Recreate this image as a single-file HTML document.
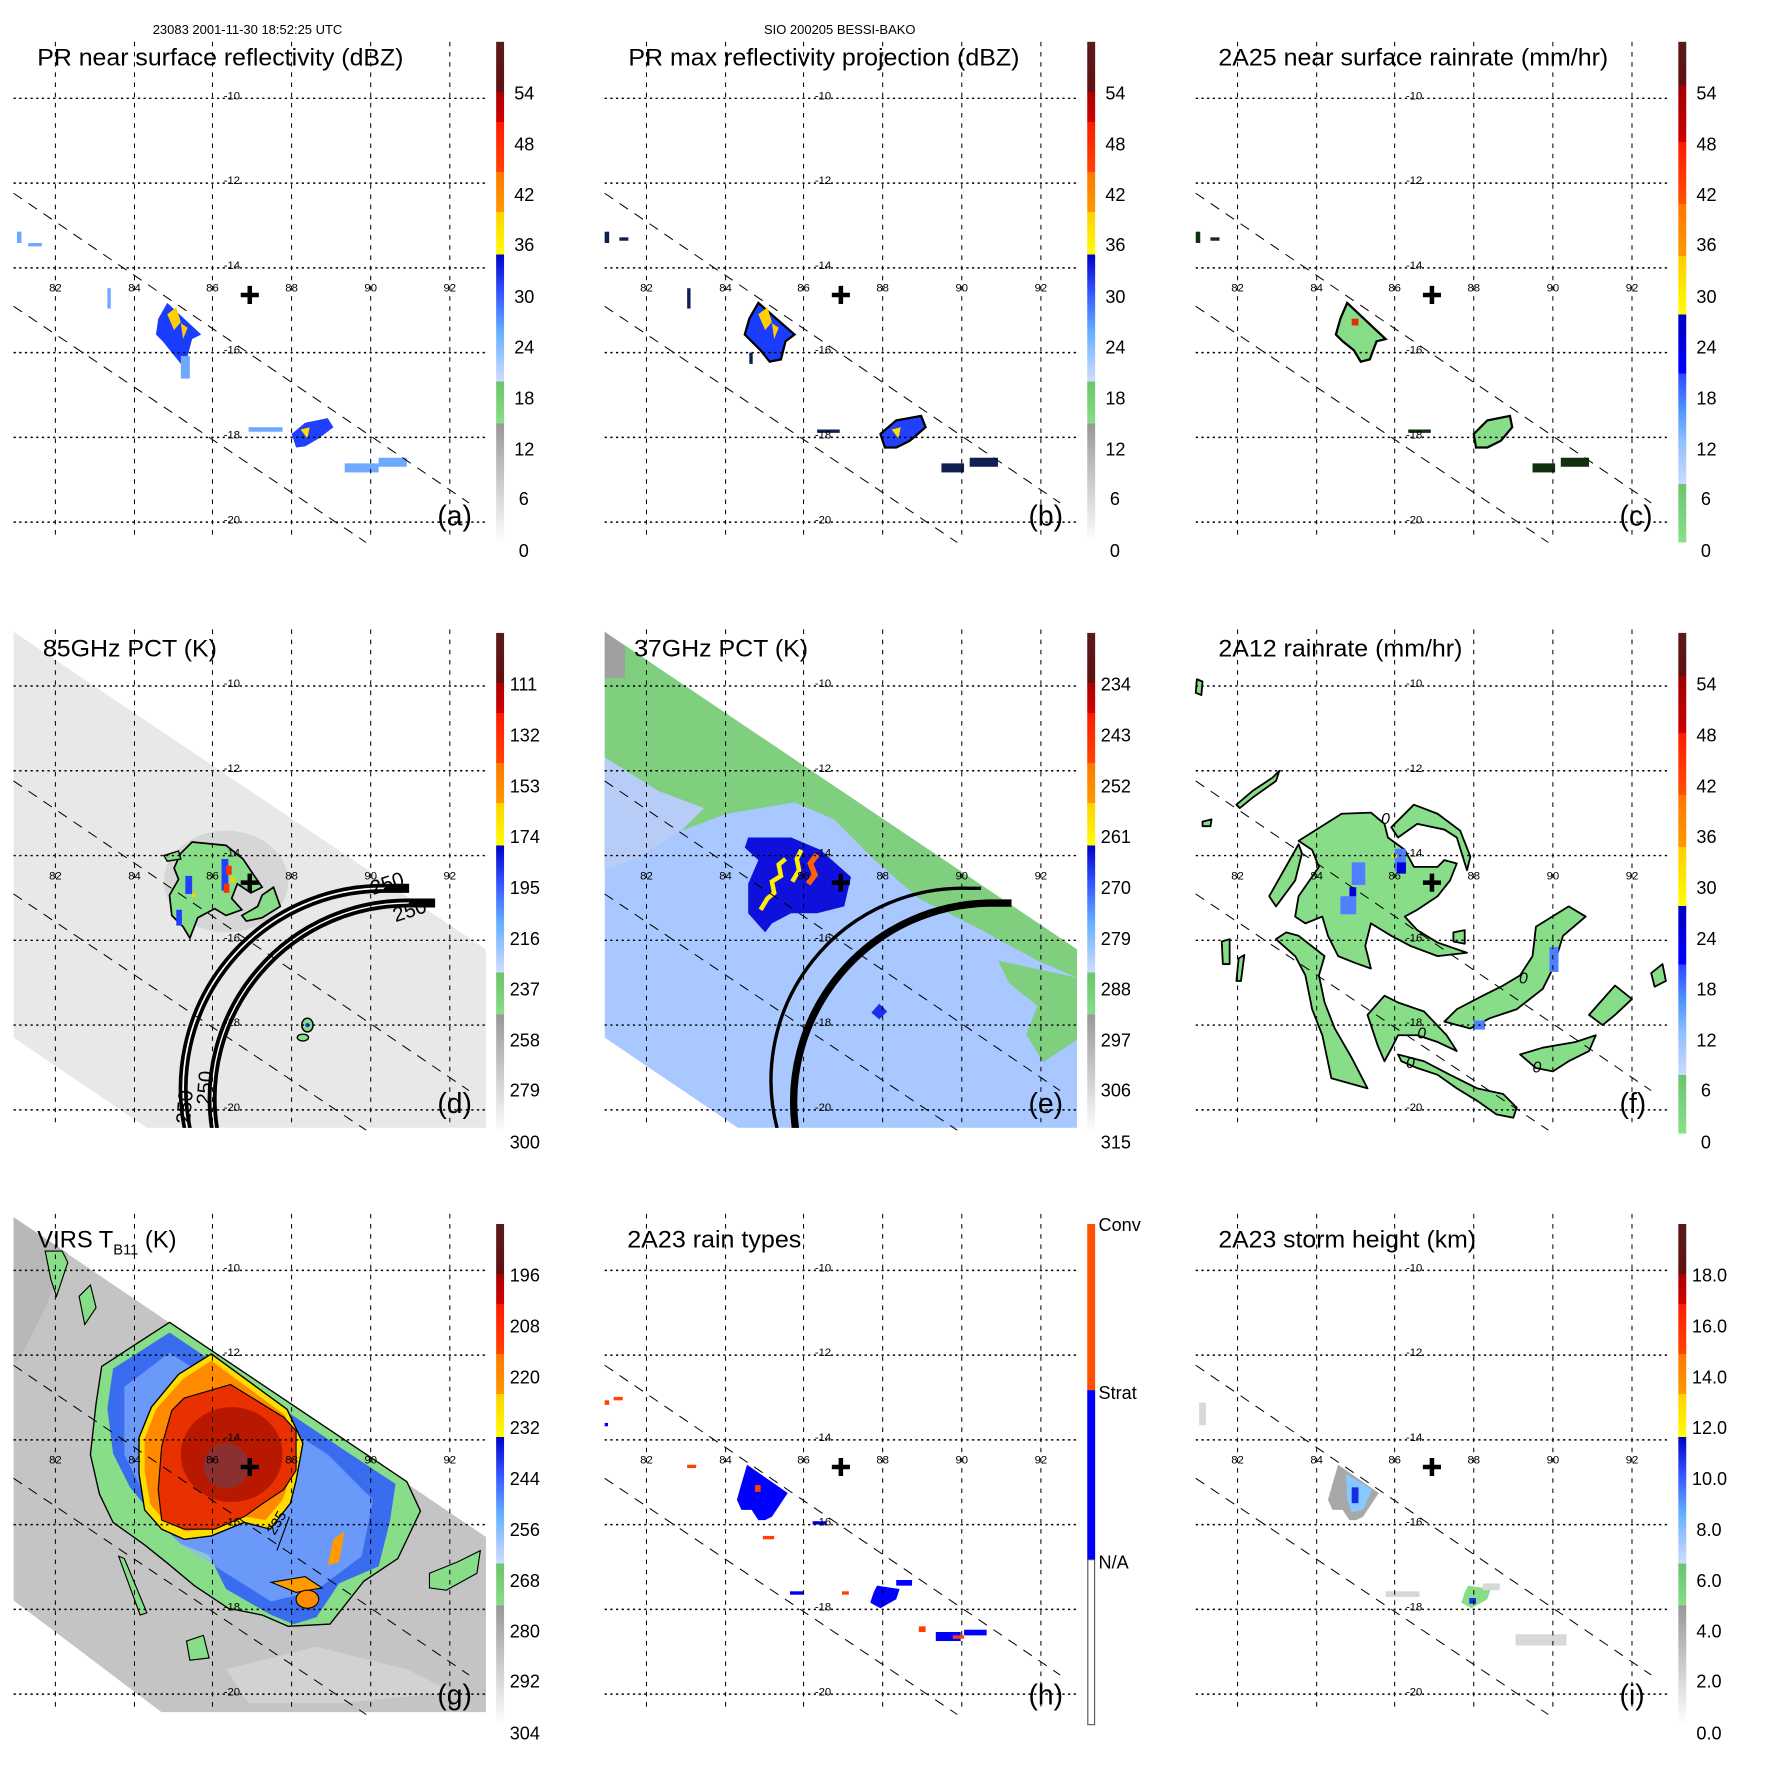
<!DOCTYPE html>
<html><head><meta charset="utf-8"><style>
html,body{margin:0;padding:0;background:#fff}
svg{display:block}
text{font-family:"Liberation Sans",sans-serif}
</style></head><body>
<svg width="1771" height="1771" viewBox="0 0 1567 1567" xmlns="http://www.w3.org/2000/svg">
<defs>
<linearGradient id="gA" x1="0" y1="1" x2="0" y2="0">
<stop offset="0" stop-color="#ffffff"/><stop offset="0.238" stop-color="#989898"/>
<stop offset="0.238" stop-color="#88dd88"/><stop offset="0.322" stop-color="#6cc46c"/>
<stop offset="0.322" stop-color="#cfdcff"/><stop offset="0.42" stop-color="#66b0ff"/>
<stop offset="0.5" stop-color="#3355ff"/><stop offset="0.575" stop-color="#0000c8"/>
<stop offset="0.575" stop-color="#ffff00"/><stop offset="0.66" stop-color="#ffd000"/>
<stop offset="0.66" stop-color="#ff9900"/><stop offset="0.74" stop-color="#ff7700"/>
<stop offset="0.74" stop-color="#ff4400"/><stop offset="0.84" stop-color="#ff1a00"/>
<stop offset="0.84" stop-color="#d00000"/><stop offset="0.9" stop-color="#aa0000"/>
<stop offset="0.9" stop-color="#601010"/><stop offset="1" stop-color="#5a1a1a"/>
</linearGradient>
<linearGradient id="gC" x1="0" y1="1" x2="0" y2="0">
<stop offset="0" stop-color="#88e088"/><stop offset="0.117" stop-color="#6cc46c"/>
<stop offset="0.117" stop-color="#cfd8ff"/><stop offset="0.2" stop-color="#8fc0ff"/>
<stop offset="0.27" stop-color="#4a90ff"/><stop offset="0.338" stop-color="#3344ff"/>
<stop offset="0.338" stop-color="#0000ff"/><stop offset="0.455" stop-color="#0000c0"/>
<stop offset="0.455" stop-color="#ffff00"/><stop offset="0.572" stop-color="#ffcc00"/>
<stop offset="0.572" stop-color="#ff9900"/><stop offset="0.676" stop-color="#ff7700"/>
<stop offset="0.676" stop-color="#ff5000"/><stop offset="0.8" stop-color="#ff1a00"/>
<stop offset="0.8" stop-color="#cc0000"/><stop offset="0.914" stop-color="#a00000"/>
<stop offset="0.914" stop-color="#601010"/><stop offset="1" stop-color="#5a1a1a"/>
</linearGradient>
<g id="grid">
<g stroke="#000" stroke-width="1.3" stroke-dasharray="2,3" fill="none">
<path d="M12 87H430M12 162H430M12 237H430M12 312H430M12 387H430M12 462H430"/>
</g>
<g stroke="#000" stroke-width="0.9" stroke-dasharray="4,5" fill="none">
<path d="M49 37V478M119 37V478M188 37V478M258 37V478M328 37V478M398 37V478"/>
</g>
<g stroke="#000" stroke-width="0.9" stroke-dasharray="9,7" fill="none">
<path d="M12 171L415 445M12 271L324 480"/>
</g>
<path d="M221 253V269M213 261H229" stroke="#000" stroke-width="4"/>
</g>
<clipPath id="pc"><rect x="12" y="37" width="418" height="441"/></clipPath>
</defs>

<text x="219" y="30" font-size="11.5" text-anchor="middle">23083 2001-11-30 18:52:25 UTC</text>
<text x="743" y="30" font-size="11.5" text-anchor="middle">SIO 200205 BESSI-BAKO</text>

<!-- ============ PANEL A ============ -->
<g transform="translate(0,0)">
<g>
<polygon points="140,282 148,268 178,296 170,300 166,315 160,322 152,312 144,302 138,296" fill="#1a3cff"/>
<polygon points="148,278 156,272 160,285 154,292" fill="#ffd000"/>
<polygon points="160,286 166,290 162,300" fill="#ffcc00"/>
<polygon points="258,384 270,374 290,370 295,378 282,388 270,395 262,396" fill="#2040ff"/>
<polygon points="266,380 274,378 272,388" fill="#ffdd00"/>
<g fill="#6fa8ff"><rect x="305" y="410" width="30" height="8"/><rect x="335" y="405" width="25" height="8"/><rect x="220" y="378" width="30" height="4"/><rect x="15" y="205" width="4" height="10"/><rect x="25" y="215" width="12" height="3"/><rect x="160" y="315" width="8" height="20"/><rect x="95" y="255" width="3" height="18"/></g>
</g>
<use href="#grid"/>
</g>
<!-- ============ PANEL B ============ -->
<g transform="translate(523,0)">
<polygon points="140,282 148,268 180,296 172,302 168,318 158,320 150,310 142,302 136,296" fill="#1a3cff" stroke="#000" stroke-width="2"/>
<polygon points="148,278 156,272 160,285 154,292" fill="#ffd000"/>
<polygon points="160,286 166,290 162,300" fill="#ffcc00"/>
<polygon points="256,384 270,372 292,368 296,378 282,390 270,396 260,396" fill="#2040ff" stroke="#000" stroke-width="2"/>
<polygon points="266,380 274,378 272,388" fill="#ffdd00"/>
<g fill="#102050"><rect x="310" y="410" width="20" height="8"/><rect x="335" y="405" width="25" height="8"/><rect x="200" y="380" width="20" height="3"/><rect x="12" y="205" width="4" height="10"/><rect x="25" y="210" width="8" height="3"/><rect x="85" y="255" width="3" height="18"/><rect x="140" y="312" width="3" height="10"/></g>
<use href="#grid"/>
</g>
<!-- ============ PANEL C ============ -->
<g transform="translate(1046,0)">
<polygon points="140,282 146,268 180,300 172,302 166,318 158,320 152,310 142,302 136,296" fill="#88dd88" stroke="#000" stroke-width="2"/>
<rect x="150" y="282" width="6" height="6" fill="#e03000"/>
<polygon points="258,384 270,372 290,368 292,378 282,390 270,396 260,396" fill="#88dd88" stroke="#000" stroke-width="2"/>
<g fill="#103010"><rect x="310" y="410" width="20" height="8"/><rect x="335" y="405" width="25" height="8"/><rect x="200" y="380" width="20" height="3"/><rect x="12" y="205" width="4" height="10"/><rect x="25" y="210" width="8" height="3"/></g>
<use href="#grid"/>
</g>

<!-- ============ PANEL D ============ -->
<g transform="translate(0,520)">
<g clip-path="url(#pc)">
<polygon points="12,39 430,320 430,478 130,478 12,398" fill="#e8e8e8"/>
<ellipse cx="200" cy="260" rx="55" ry="45" fill="#c4c4c4" opacity="0.5"/>
<polygon points="160,235 170,225 200,228 215,240 225,255 232,265 222,270 210,262 205,275 214,285 200,290 190,284 175,292 168,310 162,300 152,290 150,272 158,258 154,248" fill="#88dd88" stroke="#000" stroke-width="1.5"/>
<polygon points="232,272 242,265 248,282 232,292 218,295 214,290 228,282" fill="#88dd88" stroke="#000" stroke-width="1.5"/>
<polygon points="145,237 158,233 160,240 148,242" fill="#88dd88" stroke="#000" stroke-width="1.2"/>
<g fill="#2040ff"><rect x="196" y="240" width="6" height="28"/><rect x="164" y="255" width="6" height="16"/><rect x="156" y="285" width="5" height="14"/></g>
<g fill="#ff3000"><rect x="200" y="246" width="5" height="8"/><rect x="198" y="262" width="5" height="8"/></g>
<g fill="#ffcc00"><rect x="204" y="256" width="4" height="5"/><rect x="170" y="270" width="3" height="4"/></g>
<ellipse cx="272" cy="387" rx="5" ry="6" fill="#88dd88" stroke="#000" stroke-width="1.3"/>
<circle cx="272" cy="387" r="2" fill="#2040ff"/>
<ellipse cx="268" cy="398" rx="5" ry="3" fill="#88dd88" stroke="#000" stroke-width="1.2"/>
<g fill="none">
<path d="M166 480 A177 177 0 0 1 341 266 L362 266" stroke="#000" stroke-width="8"/>
<path d="M166 480 A177 177 0 0 1 341 266" stroke="#fff" stroke-width="1.5"/>
<path d="M190 480 A173 173 0 0 1 362 279 L385 279" stroke="#000" stroke-width="8"/>
<path d="M190 480 A173 173 0 0 1 362 279" stroke="#fff" stroke-width="1.2"/>
</g>
<text x="330" y="272" font-size="18" transform="rotate(-18 330 272)">250</text>
<text x="350" y="296" font-size="18" transform="rotate(-18 350 296)">250</text>
<text x="168" y="475" font-size="18" transform="rotate(-85 168 475)">250</text>
<text x="186" y="458" font-size="18" transform="rotate(-85 186 458)">250</text>
</g>
<use href="#grid"/>
</g>
<!-- ============ PANEL E ============ -->
<g transform="translate(523,520)">
<g clip-path="url(#pc)">
<polygon points="12,39 430,320 430,478 130,478 12,398" fill="#a8c8ff"/>
<polygon points="12,39 430,320 430,345 395,330 340,300 290,275 250,240 215,205 180,190 150,195 120,200 80,215 40,240 12,250" fill="#7fcf7f"/>
<polygon points="12,150 60,180 100,195 80,215 40,240 12,250" fill="#b8ccf8"/>
<polygon points="12,39 30,52 30,80 12,80" fill="#a0a0a0"/>
<polygon points="360,330 430,345 430,400 400,420 385,395 395,370 370,350" fill="#7fcf7f"/>
<polygon points="139,221 177,221 203,232 230,256 224,282 200,288 177,288 160,297 154,305 139,288 139,262 148,241 136,230" fill="#1010dd"/>
<polyline points="150,285 156,275 162,270 160,260 168,255 166,245 172,240" fill="none" stroke="#ffee00" stroke-width="4"/>
<polyline points="178,260 184,250 182,240 186,232" fill="none" stroke="#ffee00" stroke-width="4"/>
<polyline points="192,262 198,254 194,244 200,236" fill="none" stroke="#ff6000" stroke-width="5"/>
<polygon points="255,368 262,375 255,382 248,376" fill="#1a30ee"/>
<path d="M165 480 A170 170 0 0 1 335 266 L345 266" fill="none" stroke="#000" stroke-width="3"/>
<path d="M181 480 A176 176 0 0 1 352 279 L372 279" fill="none" stroke="#000" stroke-width="6.5"/>
</g>
<use href="#grid"/>
</g>
<!-- ============ PANEL F ============ -->
<g transform="translate(1046,523)">
<g fill="#88dd88" stroke="#000" stroke-width="1.6" stroke-linejoin="round">
<polygon points="103,221 141,197 167,196 179,206 182,218 197,229 205,244 226,244 232,238 243,241 237,256 226,270 208,282 197,288 208,300 226,311 252,320 226,323 202,314 185,305 167,294 162,314 167,334 153,329 138,323 129,305 124,288 109,294 100,288 103,270 121,244 115,229"/>
<polygon points="185,209 205,189 226,197 246,212 255,235 252,247 243,218 232,211 208,206 191,218"/>
<polygon points="103,224 77,270 83,279 100,256 106,232"/>
<polygon points="83,308 100,323 109,340 115,370 124,393 132,431 164,440 150,413 135,387 126,364 121,340 126,323 103,305 92,302"/>
<polygon points="164,375 179,358 191,364 214,372 234,393 243,407 226,399 208,393 191,393 185,405 179,416 173,402"/>
<polygon points="243,370 266,358 284,349 299,340 310,323 313,297 342,279 357,288 337,305 328,334 319,352 296,370 272,378 255,387 232,381"/>
<polygon points="191,410 214,416 237,428 261,440 284,445 296,457 293,466 278,463 261,451 243,440 226,428 208,422 194,416"/>
<polygon points="299,410 319,404 348,399 366,393 360,407 342,416 328,425 313,422"/>
<polygon points="360,375 383,349 398,361 383,375 372,384"/>
<polygon points="48,189 62,177 80,165 86,159 83,168 62,183 51,192"/>
<polygon points="13,78 18,80 17,92 12,90"/>
<polygon points="18,204 26,202 25,208 18,208"/>
<polygon points="35,310 42,308 42,330 36,330"/>
<polygon points="50,325 55,322 52,345 48,345"/>
<polygon points="415,338 425,330 428,345 418,350"/>
<polygon points="240,302 250,300 250,312 240,310"/>
</g>
<g fill="#5080ff"><rect x="150" y="240" width="12" height="20"/><rect x="140" y="270" width="14" height="16"/><rect x="188" y="228" width="10" height="20"/><rect x="325" y="315" width="8" height="22"/><rect x="258" y="380" width="10" height="8"/></g>
<g fill="#0000e0"><rect x="190" y="240" width="8" height="10"/><rect x="148" y="262" width="6" height="8"/></g>
<rect x="186" y="233" width="4" height="3" fill="#ffee00"/>
<text x="176" y="206" font-size="14" font-style="italic">0</text>
<text x="298" y="347" font-size="14" font-style="italic">0</text>
<text x="208" y="396" font-size="14" font-style="italic">0</text>
<text x="198" y="422" font-size="14" font-style="italic">0</text>
<text x="310" y="426" font-size="14" font-style="italic">0</text>
</g>
<g transform="translate(1046,520)"><use href="#grid"/></g>

<!-- ============ PANEL G ============ -->
<g transform="translate(0,1037)">
<g clip-path="url(#pc)">
<polygon points="12,40 430,323 430,478 143,478 12,379" fill="#c4c4c4"/>
<polygon points="12,40 60,72 40,120 20,160 12,170" fill="#b8b8b8"/>
<polygon points="200,440 280,420 360,440 400,460 300,470 220,470" fill="#d2d2d2"/>
<polygon points="40,70 55,70 60,80 50,110 45,95" fill="#88dd88" stroke="#000" stroke-width="1"/>
<polygon points="70,110 80,100 85,120 75,135" fill="#88dd88" stroke="#000" stroke-width="1"/>
<polygon points="90,172 150,133 360,274 372,300 352,342 322,362 292,400 255,402 232,392 202,386 172,366 148,346 128,330 100,310 88,285 80,250 85,205" fill="#88dd88" stroke="#000" stroke-width="1.2"/>
<polygon points="100,174 150,142 300,243 350,276 345,309 335,349 300,364 280,394 260,400 240,392 200,369 185,339 160,329 140,309 115,279 100,249 95,209" fill="#3a6cf0"/>
<polygon points="110,190 150,160 290,250 330,290 320,340 280,370 240,380 200,355 160,330 130,290 110,250" fill="#8ab8ff" opacity="0.6"/>
<polygon points="158,179 187,161 254,210 268,240 262,273 257,293 239,316 216,310 187,322 163,325 143,316 128,299 123,267 123,235 134,208" fill="#ffdd00" stroke="#000" stroke-width="1.2"/>
<polygon points="162,183 187,167 252,215 262,240 257,270 250,290 235,308 212,304 187,315 165,318 146,309 133,294 128,265 128,236 138,210" fill="#ff8a00"/>
<polygon points="163,200 204,188 251,217 262,229 262,264 251,281 233,293 216,305 190,316 163,316 143,308 140,281 143,243 152,211" fill="#e83000" stroke="#000" stroke-width="1"/>
<ellipse cx="205" cy="250" rx="45" ry="42" fill="#b81800"/>
<ellipse cx="200" cy="260" rx="20" ry="20" fill="#8a3030"/>
<polygon points="240,363 270,358 285,368 262,372" fill="#ff9a00" stroke="#000" stroke-width="1"/>
<ellipse cx="272" cy="378" rx="10" ry="8" fill="#ff8a00" stroke="#000" stroke-width="1"/>
<polygon points="295,325 305,318 300,345 290,348" fill="#ff9a00"/>
<polygon points="380,355 405,345 425,335 422,355 395,370 380,368" fill="#88dd88" stroke="#000" stroke-width="1"/>
<polygon points="105,340 110,342 130,390 124,392" fill="#88dd88" stroke="#000" stroke-width="1"/>
<polygon points="165,415 180,410 185,430 168,432" fill="#88dd88" stroke="#000" stroke-width="1"/>
<path d="M245 335 L256 305" stroke="#000" stroke-width="1"/>
<text x="243" y="322" font-size="13" transform="rotate(-60 243 322)">235</text>
</g>
<use href="#grid"/>
</g>
<!-- ============ PANEL H ============ -->
<g transform="translate(523,1037)">
<g transform="translate(0,9)">
<polygon points="138,250 174,275 160,296 154,299 148,299 142,290 133,290 129,281 133,267" fill="#0000ff"/>
<rect x="145" y="268" width="5" height="6" fill="#ff4000"/>
<polygon points="253,357 273,360 270,369 256,377 247,372 250,363" fill="#0000ff"/>
<rect x="270" y="352" width="14" height="5" fill="#0000ff"/>
<g fill="#0000ff"><rect x="305" y="398" width="22" height="8"/><rect x="330" y="396" width="20" height="5"/><rect x="176" y="362" width="12" height="3"/><rect x="196" y="300" width="12" height="3"/><rect x="12" y="213" width="3" height="3"/></g>
<g fill="#ff4000"><rect x="12" y="193" width="4" height="4"/><rect x="20" y="190" width="8" height="3"/><rect x="85" y="250" width="8" height="3"/><rect x="152" y="313" width="10" height="3"/><rect x="222" y="362" width="6" height="3"/><rect x="290" y="393" width="6" height="5"/><rect x="320" y="401" width="10" height="3"/></g>
</g>
<use href="#grid"/>
</g>
<!-- ============ PANEL I ============ -->
<g transform="translate(1046,1037)">
<g transform="translate(0,9)">
<polygon points="138,250 174,275 160,296 154,299 148,299 142,290 133,290 129,281 133,267" fill="#a8a8a8"/>
<polygon points="145,258 168,272 160,290 150,292 146,280" fill="#88c8ff"/>
<rect x="150" y="270" width="6" height="14" fill="#1030e0"/>
<polygon points="253,357 273,360 270,369 256,377 247,372 250,363" fill="#88dd88"/>
<rect x="254" y="368" width="6" height="5" fill="#1030e0"/>
<g fill="#d8d8d8"><rect x="295" y="400" width="45" height="10"/><rect x="180" y="362" width="30" height="5"/><rect x="266" y="355" width="15" height="6"/><rect x="15" y="195" width="6" height="20"/></g>
</g>
<use href="#grid"/>
</g>

<!-- ============ LAT/LON LABELS ============ -->
<g font-size="10" fill="#000">
<g><text x="198" y="88">-10</text><text x="198" y="163">-12</text><text x="198" y="238">-14</text><text x="198" y="313">-16</text><text x="198" y="388">-18</text><text x="198" y="463">-20</text>
<g text-anchor="middle"><text x="49" y="258">82</text><text x="119" y="258">84</text><text x="188" y="258">86</text><text x="258" y="258">88</text><text x="328" y="258">90</text><text x="398" y="258">92</text></g></g>
<g transform="translate(523,0)"><text x="198" y="88">-10</text><text x="198" y="163">-12</text><text x="198" y="238">-14</text><text x="198" y="313">-16</text><text x="198" y="388">-18</text><text x="198" y="463">-20</text>
<g text-anchor="middle"><text x="49" y="258">82</text><text x="119" y="258">84</text><text x="188" y="258">86</text><text x="258" y="258">88</text><text x="328" y="258">90</text><text x="398" y="258">92</text></g></g>
<g transform="translate(1046,0)"><text x="198" y="88">-10</text><text x="198" y="163">-12</text><text x="198" y="238">-14</text><text x="198" y="313">-16</text><text x="198" y="388">-18</text><text x="198" y="463">-20</text>
<g text-anchor="middle"><text x="49" y="258">82</text><text x="119" y="258">84</text><text x="188" y="258">86</text><text x="258" y="258">88</text><text x="328" y="258">90</text><text x="398" y="258">92</text></g></g>
<g transform="translate(0,520)"><text x="198" y="88">-10</text><text x="198" y="163">-12</text><text x="198" y="238">-14</text><text x="198" y="313">-16</text><text x="198" y="388">-18</text><text x="198" y="463">-20</text>
<g text-anchor="middle"><text x="49" y="258">82</text><text x="119" y="258">84</text><text x="188" y="258">86</text><text x="258" y="258">88</text><text x="328" y="258">90</text><text x="398" y="258">92</text></g></g>
<g transform="translate(523,520)"><text x="198" y="88">-10</text><text x="198" y="163">-12</text><text x="198" y="238">-14</text><text x="198" y="313">-16</text><text x="198" y="388">-18</text><text x="198" y="463">-20</text>
<g text-anchor="middle"><text x="49" y="258">82</text><text x="119" y="258">84</text><text x="188" y="258">86</text><text x="258" y="258">88</text><text x="328" y="258">90</text><text x="398" y="258">92</text></g></g>
<g transform="translate(1046,520)"><text x="198" y="88">-10</text><text x="198" y="163">-12</text><text x="198" y="238">-14</text><text x="198" y="313">-16</text><text x="198" y="388">-18</text><text x="198" y="463">-20</text>
<g text-anchor="middle"><text x="49" y="258">82</text><text x="119" y="258">84</text><text x="188" y="258">86</text><text x="258" y="258">88</text><text x="328" y="258">90</text><text x="398" y="258">92</text></g></g>
<g transform="translate(0,1037)"><text x="198" y="88">-10</text><text x="198" y="163">-12</text><text x="198" y="238">-14</text><text x="198" y="313">-16</text><text x="198" y="388">-18</text><text x="198" y="463">-20</text>
<g text-anchor="middle"><text x="49" y="258">82</text><text x="119" y="258">84</text><text x="188" y="258">86</text><text x="258" y="258">88</text><text x="328" y="258">90</text><text x="398" y="258">92</text></g></g>
<g transform="translate(523,1037)"><text x="198" y="88">-10</text><text x="198" y="163">-12</text><text x="198" y="238">-14</text><text x="198" y="313">-16</text><text x="198" y="388">-18</text><text x="198" y="463">-20</text>
<g text-anchor="middle"><text x="49" y="258">82</text><text x="119" y="258">84</text><text x="188" y="258">86</text><text x="258" y="258">88</text><text x="328" y="258">90</text><text x="398" y="258">92</text></g></g>
<g transform="translate(1046,1037)"><text x="198" y="88">-10</text><text x="198" y="163">-12</text><text x="198" y="238">-14</text><text x="198" y="313">-16</text><text x="198" y="388">-18</text><text x="198" y="463">-20</text>
<g text-anchor="middle"><text x="49" y="258">82</text><text x="119" y="258">84</text><text x="188" y="258">86</text><text x="258" y="258">88</text><text x="328" y="258">90</text><text x="398" y="258">92</text></g></g>
</g>

<!-- ============ TITLES & LETTERS ============ -->
<g font-size="21">
<text x="33" y="58" textLength="324" lengthAdjust="spacingAndGlyphs">PR near surface reflectivity (dBZ)</text>
<text x="556" y="58" textLength="346" lengthAdjust="spacingAndGlyphs">PR max reflectivity projection (dBZ)</text>
<text x="1078" y="58" textLength="345" lengthAdjust="spacingAndGlyphs">2A25 near surface rainrate (mm/hr)</text>
<text x="38" y="581" textLength="154" lengthAdjust="spacingAndGlyphs">85GHz PCT (K)</text>
<text x="561" y="581" textLength="154" lengthAdjust="spacingAndGlyphs">37GHz PCT (K)</text>
<text x="1078" y="581" textLength="216" lengthAdjust="spacingAndGlyphs">2A12 rainrate (mm/hr)</text>
<text x="33" y="1104">VIRS T<tspan font-size="13" dy="6">B11</tspan><tspan dy="-6"> (K)</tspan></text>
<text x="555" y="1104" textLength="154" lengthAdjust="spacingAndGlyphs">2A23 rain types</text>
<text x="1078" y="1104" textLength="228" lengthAdjust="spacingAndGlyphs">2A23 storm height (km)</text>
</g>
<g font-size="25">
<text x="387" y="465">(a)</text><text x="910" y="465">(b)</text><text x="1433" y="465">(c)</text>
<text x="387" y="985">(d)</text><text x="910" y="985">(e)</text><text x="1433" y="985">(f)</text>
<text x="387" y="1508">(g)</text><text x="910" y="1508">(h)</text><text x="1433" y="1508">(i)</text>
</g>

<!-- ============ COLORBARS ============ -->
<rect x="439" y="37" width="7" height="443" fill="url(#gA)"/>
<rect x="962" y="37" width="7" height="443" fill="url(#gA)"/>
<rect x="1485" y="37" width="7" height="443" fill="url(#gC)"/>
<rect x="439" y="560" width="7" height="443" fill="url(#gA)"/>
<rect x="962" y="560" width="7" height="443" fill="url(#gA)"/>
<rect x="1485" y="560" width="7" height="443" fill="url(#gC)"/>
<rect x="439" y="1083" width="7" height="443" fill="url(#gA)"/>
<rect x="962" y="1083" width="7" height="147" fill="#ff5000"/>
<rect x="962" y="1230" width="7" height="150" fill="#0000ff"/>
<rect x="962.5" y="1380" width="6" height="146" fill="#fff" stroke="#555" stroke-width="1"/>
<rect x="1485" y="1083" width="7" height="443" fill="url(#gA)"/>

<g font-size="16">
<g transform="translate(455,0)"><text y="88">54</text><text y="133">48</text><text y="178">42</text><text y="222">36</text><text y="268">30</text><text y="313">24</text><text y="358">18</text><text y="403">12</text><text x="4" y="447">6</text><text x="4" y="493">0</text></g>
<g transform="translate(978,0)"><text y="88">54</text><text y="133">48</text><text y="178">42</text><text y="222">36</text><text y="268">30</text><text y="313">24</text><text y="358">18</text><text y="403">12</text><text x="4" y="447">6</text><text x="4" y="493">0</text></g>
<g transform="translate(1501,0)"><text y="88">54</text><text y="133">48</text><text y="178">42</text><text y="222">36</text><text y="268">30</text><text y="313">24</text><text y="358">18</text><text y="403">12</text><text x="4" y="447">6</text><text x="4" y="493">0</text></g>
<g transform="translate(451,520)"><text y="91">111</text><text y="136">132</text><text y="181">153</text><text y="226">174</text><text y="271">195</text><text y="316">216</text><text y="361">237</text><text y="406">258</text><text y="450">279</text><text y="496">300</text></g>
<g transform="translate(974,520)"><text y="91">234</text><text y="136">243</text><text y="181">252</text><text y="226">261</text><text y="271">270</text><text y="316">279</text><text y="361">288</text><text y="406">297</text><text y="450">306</text><text y="496">315</text></g>
<g transform="translate(1501,520)"><text y="91">54</text><text y="136">48</text><text y="181">42</text><text y="226">36</text><text y="271">30</text><text y="316">24</text><text y="361">18</text><text y="406">12</text><text x="4" y="450">6</text><text x="4" y="496">0</text></g>
<g transform="translate(451,1037)"><text y="97">196</text><text y="142">208</text><text y="187">220</text><text y="232">232</text><text y="277">244</text><text y="322">256</text><text y="367">268</text><text y="412">280</text><text y="456">292</text><text y="502">304</text></g>
<g transform="translate(972,1037)"><text y="52">Conv</text><text y="201">Strat</text><text y="351">N/A</text></g>
<g transform="translate(1497,1037)"><text y="97">18.0</text><text y="142">16.0</text><text y="187">14.0</text><text y="232">12.0</text><text y="277">10.0</text><text x="4" y="322">8.0</text><text x="4" y="367">6.0</text><text x="4" y="412">4.0</text><text x="4" y="456">2.0</text><text x="4" y="502">0.0</text></g>
</g>
</svg>
</body></html>
